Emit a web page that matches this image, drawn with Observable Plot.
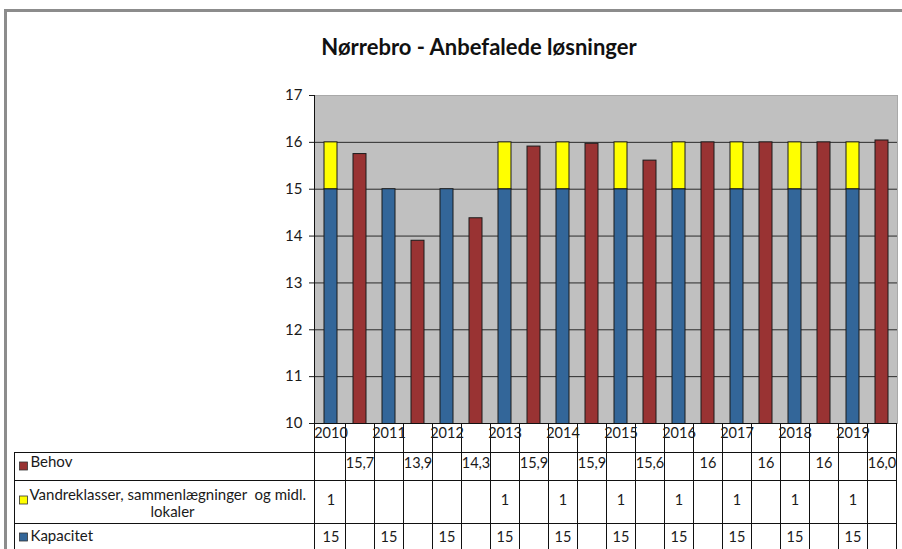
<!DOCTYPE html>
<html><head><meta charset="utf-8">
<script src="https://cdn.jsdelivr.net/npm/d3@7"></script>
<script src="https://cdn.jsdelivr.net/npm/@observablehq/plot@0.6"></script>
<style>
html,body{margin:0;padding:0;background:#fff;width:902px;height:549px;overflow:hidden;}
#wrap{position:relative;width:902px;height:549px;overflow:hidden;}
#frame{position:absolute;left:4px;top:9px;width:1000px;height:1000px;border-left:3px solid #8c8c8c;border-top:3px solid #8c8c8c;}
#title{position:absolute;left:0;width:958px;top:33px;text-align:center;font-family:Lato,sans-serif;font-weight:bold;font-size:22px;color:#111;white-space:nowrap;}
#chart{position:absolute;left:0;top:0;}
</style></head><body>
<div id="wrap"><div id="frame"></div><div id="title">Nørrebro - Anbefalede løsninger</div><div id="chart"></div></div>
<script>
// ---- data ----
const years = ["2010","2011","2012","2013","2014","2015","2016","2017","2018","2019"];
const kapacitet = [15,15,15,15,15,15,15,15,15,15];
const vandre = [1,null,null,1,1,1,1,1,1,1];
const behov = [15.75,13.9,14.38,15.91,15.97,15.61,16.0,16.0,16.0,16.04];
const behovLabels = ["15,7","13,9","14,3","15,9","15,9","15,6","16","16","16","16,0"];
const seriesNames = ["Behov","Vandreklasser, sammenlægninger  og midl. lokaler","Kapacitet"];
const legendLabels = ["Behov","Vandreklasser, sammenlægninger  og midl.\nlokaler","Kapacitet"];
const seriesColors = ["#993333","#ffff00","#336699"];
const yTicks = [10,11,12,13,14,15,16,17];
const gridTicks = [11,12,13,14,15,16];

// ---- derived ----
const B = "|B";
const slots = years.flatMap(y => [y, y + B]);
const barData = [
  ...years.map((y,i) => ({slot:y, series:seriesNames[2], value:kapacitet[i]})),
  ...years.flatMap((y,i) => vandre[i] == null ? [] : [{slot:y, series:seriesNames[1], value:vandre[i]}]),
  ...years.map((y,i) => ({slot:y + B, series:seriesNames[0], value:behov[i]}))
];
const rowBehov = years.map((y,i) => ({slot:y + B, label:behovLabels[i]}));
const rowVandre = years.flatMap((y,i) => vandre[i] == null ? [] : [{slot:y, label:String(vandre[i])}]);
const rowKap = years.map((y,i) => ({slot:y, label:String(kapacitet[i])}));
const keepSpaces = s => s.replace(/  /g, " \u00a0");
const vLines = legendLabels[1].split("\n").map(keepSpaces);

const ROW = [29, 57, 100]; // table row separators below the x axis
const LEGX = 14;

function tableGrid(index, scales, values, dims) {
  const x = scales.x;
  const n = slots.length;
  const step = x.step ? x.step() : (dims.width - dims.marginLeft - dims.marginRight) / n;
  const bw = x.bandwidth ? x.bandwidth() : 0;
  const left = s => x(s) - (step - bw) / 2;
  const x0 = dims.marginLeft;
  const x1 = left(slots[n - 1]) + step;
  const yb = dims.height - dims.marginBottom;
  const H = dims.height;
  const g = d3.create("svg:g").attr("stroke", "#111").attr("stroke-width", 1).attr("fill", "none");
  const line = (ax, ay, bx, by) => g.append("line").attr("x1", ax).attr("y1", ay).attr("x2", bx).attr("y2", by);
  ROW.forEach(r => line(LEGX, Math.round(yb + r) + 0.5, x1, Math.round(yb + r) + 0.5));
  line(LEGX + 0.5, yb + ROW[0], LEGX + 0.5, H);
  line(Math.round(x0) + 0.5, dims.marginTop, Math.round(x0) + 0.5, H);
  slots.slice(1).forEach(s => { const xx = Math.round(left(s)) + 0.5; line(xx, yb, xx, H); });
  line(Math.round(x1) + 0.5, yb, Math.round(x1) + 0.5, H);
  // legend keys
  const keyY = [yb + 39, yb + 73, yb + 110];
  seriesNames.forEach((s, i) => {
    g.append("rect").attr("x", 19.5).attr("y", keyY[i]).attr("width", 8).attr("height", 8)
      .attr("fill", seriesColors[i]).attr("stroke", "#333").attr("stroke-width", 0.8);
  });
  return g.node();
}

const FS = 14.5;
const LFS = 15;
const chart = Plot.plot({
  width: 902,
  height: 549,
  marginTop: 95,
  marginBottom: 126,
  marginLeft: 314,
  marginRight: 5,
  style: {fontFamily: "Lato, sans-serif", fontSize: "15px", color: "#1a1a1a", background: "transparent", overflow: "visible"},
  x: {type: "band", domain: slots, paddingInner: 0.56, paddingOuter: 0.28, align: 0.5, axis: null},
  y: {domain: [10, 17], ticks: yTicks, tickSize: 5, tickPadding: 7, label: null, tickFormat: d => String(d)},
  color: {domain: seriesNames, range: seriesColors},
  marks: [
    Plot.frame({fill: "#c0c0c0", stroke: "#a9a9a9"}),
    Plot.ruleY(gridTicks, {stroke: "#2a2a2a", strokeWidth: 1}),
    Plot.barY(barData, {x: "slot", y: "value", fill: "series", stroke: "#1a1a1a", strokeWidth: 1, clip: true}),
    Plot.ruleY([10], {stroke: "#111"}),
    tableGrid,
    Plot.text(years, {x: d => d, text: d => d, frameAnchor: "bottom", dy: 14, fontSize: FS}),
    Plot.text(rowBehov, {x: "slot", text: "label", frameAnchor: "bottom", dy: 44, fontSize: FS}),
    Plot.text(rowVandre, {x: "slot", text: "label", frameAnchor: "bottom", dy: 81, fontSize: FS}),
    Plot.text(rowKap, {x: "slot", text: "label", frameAnchor: "bottom", dy: 118, fontSize: FS}),
    Plot.text([legendLabels[0]], {frameAnchor: "bottom-left", dx: -284, dy: 43, textAnchor: "start", fontSize: LFS}),
    Plot.text([vLines[0]], {frameAnchor: "bottom-left", dx: -285, dy: 76, textAnchor: "start", fontSize: LFS}),
    Plot.text([vLines[1]], {frameAnchor: "bottom-left", dx: -142, dy: 93, textAnchor: "middle", fontSize: LFS}),
    Plot.text([legendLabels[2]], {frameAnchor: "bottom-left", dx: -284, dy: 117, textAnchor: "start", fontSize: LFS})
  ]
});
document.getElementById("chart").appendChild(chart);
</script>
</body></html>
